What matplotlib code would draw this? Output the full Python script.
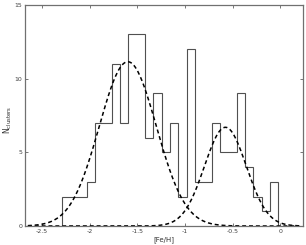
import numpy as np
import matplotlib
matplotlib.use('Agg')
import matplotlib.pyplot as plt

# histogram of [Fe/H] for the clusters
bin_start = -2.293
bin_width = 0.0875
counts = [2, 2, 2, 3, 7, 7, 11, 7, 13, 13, 6, 9, 5, 7, 2, 12, 3, 3, 7, 5, 5, 9, 4, 2, 1, 3]

# two gaussian components (amplitude, mean, sigma)
gauss_amp = [11.15, 6.7]
gauss_mu = [-1.60, -0.575]
gauss_sig = [0.30, 0.22]

x_ticks = [-2.5, -2, -1.5, -1, -0.5, 0]
x_tick_labels = ['-2.5', '-2', '-1.5', '-1', '-0.5', '0']
y_ticks = [0, 5, 10, 15]

edges = bin_start + bin_width * np.arange(len(counts) + 1)

fig = plt.figure(figsize=(3.06, 2.45), dpi=100)
ax = fig.add_axes([25 / 306, 1 - 226 / 245, 278 / 306, 221 / 245])

ax.stairs(counts, edges, color='#505050', linewidth=0.8)

xg = np.linspace(-2.65, 0.2, 400)
for a, m, s in zip(gauss_amp, gauss_mu, gauss_sig):
    ax.plot(xg, a * np.exp(-(xg - m) ** 2 / (2 * s ** 2)), color='black',
            linewidth=1.1, linestyle=(0, (2.6, 1.9)))

ax.set_xlim(-2.68, 0.24)
ax.set_ylim(0, 15)
ax.set_xticks(x_ticks)
ax.set_xticklabels(x_tick_labels)
ax.set_yticks(y_ticks)

ax.tick_params(direction='in', top=True, right=True, length=2.5, width=0.6,
               labelsize=4.5, colors='#606060', labelcolor='#404040', pad=2)
for sp in ax.spines.values():
    sp.set_color('#707070')
    sp.set_linewidth(0.9)

ax.set_xlabel('[Fe/H]', fontsize=5, color='#303030', labelpad=2)
ax.set_ylabel(r'N$_{\rm clusters}$', fontsize=5.5, color='#303030')
ax.yaxis.set_label_coords(-0.038, 0.48)

fig.savefig('out.png', dpi=100)
